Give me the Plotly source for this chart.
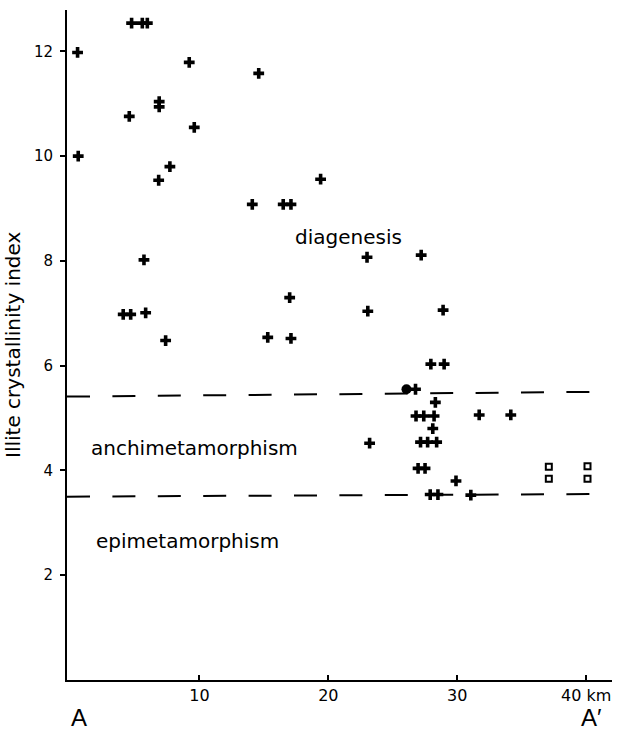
import plotly.graph_objects as go

# ---- data ----
cross_x = [0.55, 0.6, 4.74, 5.57, 5.96, 9.21, 14.6, 6.88, 6.88, 4.56, 9.6, 7.71, 6.84,
           14.1, 16.5, 17.1, 19.4, 5.70, 4.09, 4.67, 5.83, 7.38, 23.0, 17.0, 23.06,
           15.3, 17.1, 27.2, 28.9, 27.95, 28.98, 26.76, 28.3, 26.8, 27.4, 28.2, 31.7,
           34.15, 28.1, 23.2, 27.15, 27.7, 28.4, 26.96, 27.5, 29.9, 27.9, 28.5, 31.05]
cross_y = [11.98, 10.0, 12.54, 12.54, 12.54, 11.79, 11.58, 11.04, 10.94, 10.76, 10.55, 9.80, 9.54,
           9.08, 9.08, 9.08, 9.56, 8.02, 6.98, 6.98, 7.01, 6.48, 8.07, 7.30, 7.04,
           6.54, 6.52, 8.11, 7.06, 6.03, 6.03, 5.55, 5.30, 5.04, 5.04, 5.04, 5.06,
           5.06, 4.80, 4.52, 4.54, 4.54, 4.54, 4.04, 4.04, 3.80, 3.54, 3.54, 3.53]

circle_x = [26.06]
circle_y = [5.55]

square_x = [37.1, 37.1, 40.1, 40.1]
square_y = [4.07, 3.84, 4.08, 3.84]

# zone boundaries (dashed)
upper_x = [-0.27, 40.33]
upper_y = [5.41, 5.50]
lower_x = [-0.27, 40.8]
lower_y = [3.50, 3.55]

zone_labels = ["diagenesis", "anchimetamorphism", "epimetamorphism"]
zone_x = [21.6, 9.6, 9.1]
zone_y = [8.46, 4.43, 2.65]

x_tickvals = [10, 20, 30, 40]
x_ticktext = ["10", "20", "30", "40 km"]
y_tickvals = [2, 4, 6, 8, 10, 12]
y_ticktext = ["2", "4", "6", "8", "10", "12"]

FONT = "DejaVu Sans"

fig = go.Figure()

for lx, ly in [(upper_x, upper_y), (lower_x, lower_y)]:
    fig.add_trace(go.Scatter(x=lx, y=ly, mode="lines",
                             line=dict(color="black", width=2, dash="23px,22.4px"),
                             hoverinfo="skip", showlegend=False))

fig.add_trace(go.Scatter(x=cross_x, y=cross_y, mode="markers",
                         marker=dict(symbol="cross", size=9, color="black",
                                     line=dict(width=0)),
                         showlegend=False))
fig.add_trace(go.Scatter(x=circle_x, y=circle_y, mode="markers",
                         marker=dict(symbol="circle", size=10, color="black"),
                         showlegend=False))
fig.add_trace(go.Scatter(x=square_x, y=square_y, mode="markers",
                         marker=dict(symbol="square-open", size=6, color="black",
                                     line=dict(width=2, color="black")),
                         showlegend=False))

for t, x, y in zip(zone_labels, zone_x, zone_y):
    fig.add_annotation(x=x, y=y, xref="x", yref="y", text=t, showarrow=False,
                       font=dict(family=FONT, size=20, color="black"))

# y-axis title
fig.add_annotation(x=-54 / 545, y=0.5, xref="paper", yref="paper",
                   text="Illite crystallinity index", textangle=-90,
                   showarrow=False, xanchor="center", yanchor="middle",
                   font=dict(family=FONT, size=20, color="black"))

# section end labels
fig.add_annotation(x=12 / 545, y=-53 / 670, xref="paper", yref="paper", text="A",
                   showarrow=False, xanchor="center", yanchor="bottom",
                   font=dict(family="Liberation Sans", size=24, color="black"))
fig.add_annotation(x=524 / 545, y=-53 / 670, xref="paper", yref="paper", text="A′",
                   showarrow=False, xanchor="center", yanchor="bottom",
                   font=dict(family="Liberation Sans", size=24, color="black"))

fig.update_xaxes(range=[-0.27, 42.0], showline=True, linecolor="black", linewidth=2,
                 showgrid=False, zeroline=False, tickmode="array",
                 tickvals=x_tickvals, ticktext=x_ticktext, ticks="inside", ticklen=5,
                 tickwidth=1.5, tickcolor="black", ticklabelstandoff=0,
                 tickfont=dict(family=FONT, size=16, color="black"))
fig.update_yaxes(range=[0, 12.79], showline=True, linecolor="black", linewidth=2,
                 showgrid=False, zeroline=False, tickmode="array",
                 tickvals=y_tickvals, ticktext=y_ticktext, ticks="outside", ticklen=5,
                 tickwidth=2, tickcolor="black", ticklabelstandoff=4,
                 tickfont=dict(family=FONT, size=15, color="black"))

fig.update_layout(width=618, height=733, margin=dict(l=67, r=6, t=10, b=53),
                  plot_bgcolor="white", paper_bgcolor="white", showlegend=False)

fig.write_html("out.html")
